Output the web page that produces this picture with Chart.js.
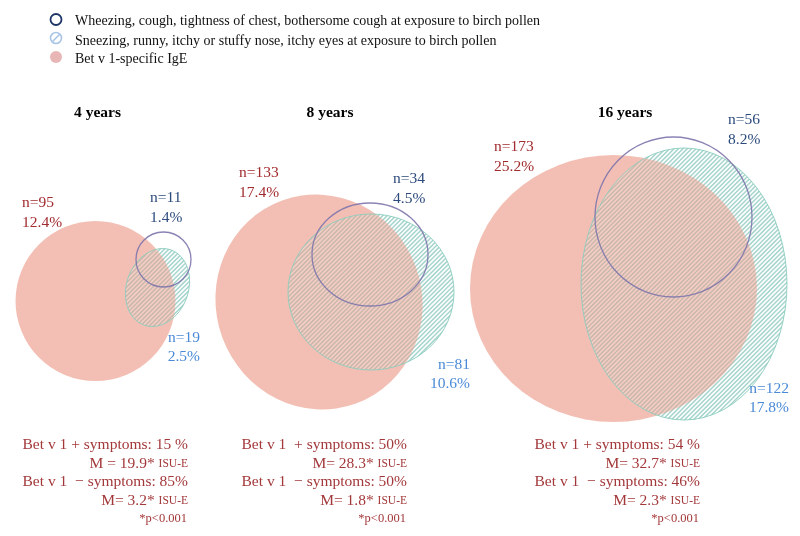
<!DOCTYPE html>
<html>
<head>
<meta charset="utf-8">
<script src="https://cdn.jsdelivr.net/npm/chart.js@4.4.0/dist/chart.umd.min.js"></script>
<style>
  html, body { margin: 0; padding: 0; background: #fff; }
</style>
</head>
<body>
<canvas id="grafico-venn" width="800" height="536"></canvas>
<script>
// Datos de la figura
const edades = ['4 years', '8 years', '16 years'];
const igeN = [95, 133, 173];
const igePct = [12.4, 17.4, 25.2];
const bajasN = [11, 34, 56];        // sibilancias, tos, opresion
const bajasPct = [1.4, 4.5, 8.2];
const altasN = [19, 81, 122];       // estornudos, rinitis, ojos
const altasPct = [2.5, 10.6, 17.8];
const conSintomas = [15, 50, 54];
const sinSintomas = [85, 50, 46];
const mediaCon = [19.9, 28.3, 32.7];
const mediaSin = [3.2, 1.8, 2.3];
const leyenda = [
  'Wheezing, cough, tightness of chest, bothersome cough at exposure to birch pollen',
  'Sneezing, runny, itchy or stuffy nose, itchy eyes at exposure to birch pollen',
  'Bet v 1-specific IgE'
];

// Disposicion de las elipses (unidades de los ejes, 0-800 x 0-536)
const elipsesIgE = [
  { x: 95.5, y: 301, rx: 80, ry: 80, rot: 0 },
  { x: 319, y: 302, rx: 103, ry: 108, rot: -20 },
  { x: 613.5, y: 288.5, rx: 143.5, ry: 133.5, rot: 0 }
];
const elipsesAltas = [
  { x: 157.5, y: 287.5, rx: 31, ry: 40, rot: 20 },
  { x: 371, y: 292, rx: 83, ry: 78, rot: 0 },
  { x: 684, y: 284, rx: 103, ry: 136, rot: 0 }
];
const elipsesBajas = [
  { x: 163.5, y: 259.5, rx: 27.5, ry: 27.5, rot: 0 },
  { x: 370, y: 254.5, rx: 58, ry: 51.5, rot: 0 },
  { x: 673.5, y: 217, rx: 78.5, ry: 80, rot: 0 }
];
// Posicion de los textos de cada panel
const posTitulo = [{ x: 97.5, y: 113 }, { x: 330, y: 113 }, { x: 625, y: 113 }];
const posIgE = [{ x: 22, y: 203 }, { x: 239, y: 173 }, { x: 494, y: 147 }];
const posBajas = [{ x: 150, y: 198 }, { x: 393, y: 179 }, { x: 728, y: 120 }];
const posAltas = [{ x: 200, y: 338 }, { x: 470, y: 365 }, { x: 789, y: 389 }];
const bordeResumen = [188, 407, 700];

const rojo = '#a12b2e';
const rojoTexto = '#a3383a';
const azulOscuro = '#2c4a7c';
const azulClaro = '#4a8ad6';
const fuente = "'Liberation Serif', 'Times New Roman', serif";

function elipse(ctx, chart, e) {
  const sx = chart.scales.x, sy = chart.scales.y;
  const cx = sx.getPixelForValue(e.x), cy = sy.getPixelForValue(e.y);
  const rx = Math.abs(sx.getPixelForValue(e.x + e.rx) - cx);
  const ry = Math.abs(sy.getPixelForValue(e.y + e.ry) - cy);
  ctx.beginPath();
  ctx.ellipse(cx, cy, rx, ry, e.rot * Math.PI / 180, 0, 2 * Math.PI);
  return { cx, cy, r: Math.max(rx, ry) };
}

function rayas(ctx, b, paso, color, ancho) {
  ctx.strokeStyle = color;
  ctx.lineWidth = ancho;
  const x0 = b.cx - b.r - 2, x1 = b.cx + b.r + 2;
  const y0 = b.cy - b.r - 2, y1 = b.cy + b.r + 2;
  const cMin = Math.floor((x0 + y0) / paso) * paso;
  for (let c = cMin; c <= x1 + y1; c += paso) {
    ctx.beginPath();
    ctx.moveTo(x0, c - x0);
    ctx.lineTo(x1, c - x1);
    ctx.stroke();
  }
}

function texto(ctx, str, x, y, tam, color, alinear, peso) {
  ctx.font = (peso || '') + ' ' + tam + 'px ' + fuente;
  ctx.fillStyle = color;
  ctx.textAlign = alinear || 'left';
  ctx.textBaseline = 'middle';
  ctx.fillText(str, x, y);
}

const pluginVenn = {
  id: 'venn',
  beforeDatasetsDraw(chart) {
    const ctx = chart.ctx;
    const dsIgE = chart.data.datasets[0].elipses;
    const dsAltas = chart.data.datasets[1].elipses;
    const dsBajas = chart.data.datasets[2].elipses;
    edades.forEach((_, j) => {
      // rayado de sintomas altos
      ctx.save();
      const b = elipse(ctx, chart, dsAltas[j]);
      ctx.clip();
      rayas(ctx, b, 4.4, 'rgba(140,200,190,1)', 1.5);
      ctx.restore();
      // IgE
      ctx.save();
      elipse(ctx, chart, dsIgE[j]);
      ctx.fillStyle = 'rgba(232,128,105,0.5)';
      ctx.fill();
      ctx.restore();
      // velo blanco y borde
      ctx.save();
      elipse(ctx, chart, dsAltas[j]);
      ctx.fillStyle = 'rgba(255,255,255,0.22)';
      ctx.fill();
      ctx.strokeStyle = 'rgba(140,205,190,0.9)';
      ctx.lineWidth = 1;
      ctx.stroke();
      ctx.restore();
      // anillo de sintomas bajos
      ctx.save();
      elipse(ctx, chart, dsBajas[j]);
      ctx.strokeStyle = 'rgba(125,118,172,0.9)';
      ctx.lineWidth = 1.3;
      ctx.stroke();
      ctx.restore();
    });
  },
  afterDraw(chart) {
    const ctx = chart.ctx;
    // leyenda
    ctx.save();
    ctx.beginPath();
    ctx.arc(56, 19.5, 5.5, 0, 2 * Math.PI);
    ctx.strokeStyle = '#1d3566';
    ctx.lineWidth = 1.8;
    ctx.stroke();
    ctx.beginPath();
    ctx.arc(56, 38, 5.5, 0, 2 * Math.PI);
    ctx.strokeStyle = '#a9c5e6';
    ctx.lineWidth = 1.6;
    ctx.stroke();
    ctx.beginPath();
    ctx.moveTo(52.5, 41.5);
    ctx.lineTo(59.5, 34.5);
    ctx.stroke();
    ctx.beginPath();
    ctx.arc(56, 57, 6, 0, 2 * Math.PI);
    ctx.fillStyle = '#e9b6b6';
    ctx.fill();
    ctx.restore();
    texto(ctx, leyenda[0], 75, 21.5, 14, '#111');
    texto(ctx, leyenda[1], 75, 41, 14, '#111');
    texto(ctx, leyenda[2], 75, 59.5, 14, '#111');

    const formatoMas = [' + symptoms: ' + conSintomas[0] + ' %', '  + symptoms: ' + conSintomas[1] + '%', ' + symptoms: ' + conSintomas[2] + ' %'];
    const prefijoM = ['M = ', 'M= ', 'M= '];
    edades.forEach((edad, j) => {
      texto(ctx, edad, posTitulo[j].x, posTitulo[j].y, 15.5, '#000', 'center', 'bold');
      texto(ctx, 'n=' + igeN[j], posIgE[j].x, posIgE[j].y, 15.5, rojo);
      texto(ctx, igePct[j].toFixed(1) + '%', posIgE[j].x, posIgE[j].y + 19.5, 15.5, rojo);
      texto(ctx, 'n=' + bajasN[j], posBajas[j].x, posBajas[j].y, 15.5, azulOscuro);
      texto(ctx, bajasPct[j].toFixed(1) + '%', posBajas[j].x, posBajas[j].y + 20, 15.5, azulOscuro);
      texto(ctx, 'n=' + altasN[j], posAltas[j].x, posAltas[j].y, 15.5, azulClaro, 'right');
      texto(ctx, altasPct[j].toFixed(1) + '%', posAltas[j].x, posAltas[j].y + 19, 15.5, azulClaro, 'right');

      const xd = bordeResumen[j];
      texto(ctx, 'Bet v 1' + formatoMas[j], xd, 445, 15.5, rojoTexto, 'right');
      texto(ctx, 'ISU-E', xd, 464, 11.5, rojoTexto, 'right');
      ctx.font = '11.5px ' + fuente;
      let w = ctx.measureText('ISU-E').width;
      texto(ctx, prefijoM[j] + mediaCon[j].toFixed(1) + '* ', xd - w, 463.5, 15.5, rojoTexto, 'right');
      texto(ctx, 'Bet v 1  \u2212 symptoms: ' + sinSintomas[j] + '%', xd, 482, 15.5, rojoTexto, 'right');
      texto(ctx, 'ISU-E', xd, 501, 11.5, rojoTexto, 'right');
      texto(ctx, 'M= ' + mediaSin[j].toFixed(1) + '* ', xd - w, 500.5, 15.5, rojoTexto, 'right');
      texto(ctx, '*p<0.001', xd - 1, 518.5, 12.5, rojoTexto, 'right');
    });
  }
};

const ctx = document.getElementById('grafico-venn').getContext('2d');
new Chart(ctx, {
  type: 'scatter',
  data: {
    datasets: [
      { label: leyenda[2], elipses: elipsesIgE, data: elipsesIgE.map(e => ({ x: e.x, y: e.y })), pointRadius: 0 },
      { label: leyenda[1], elipses: elipsesAltas, data: elipsesAltas.map(e => ({ x: e.x, y: e.y })), pointRadius: 0 },
      { label: leyenda[0], elipses: elipsesBajas, data: elipsesBajas.map(e => ({ x: e.x, y: e.y })), pointRadius: 0 }
    ]
  },
  options: {
    responsive: false,
    animation: false,
    devicePixelRatio: 1,
    layout: { padding: 0 },
    scales: {
      x: { type: 'linear', min: 0, max: 800, display: false },
      y: { type: 'linear', min: 0, max: 536, reverse: true, display: false }
    },
    plugins: {
      legend: { display: false },
      tooltip: { enabled: false }
    }
  },
  plugins: [pluginVenn]
});
</script>
</body>
</html>
